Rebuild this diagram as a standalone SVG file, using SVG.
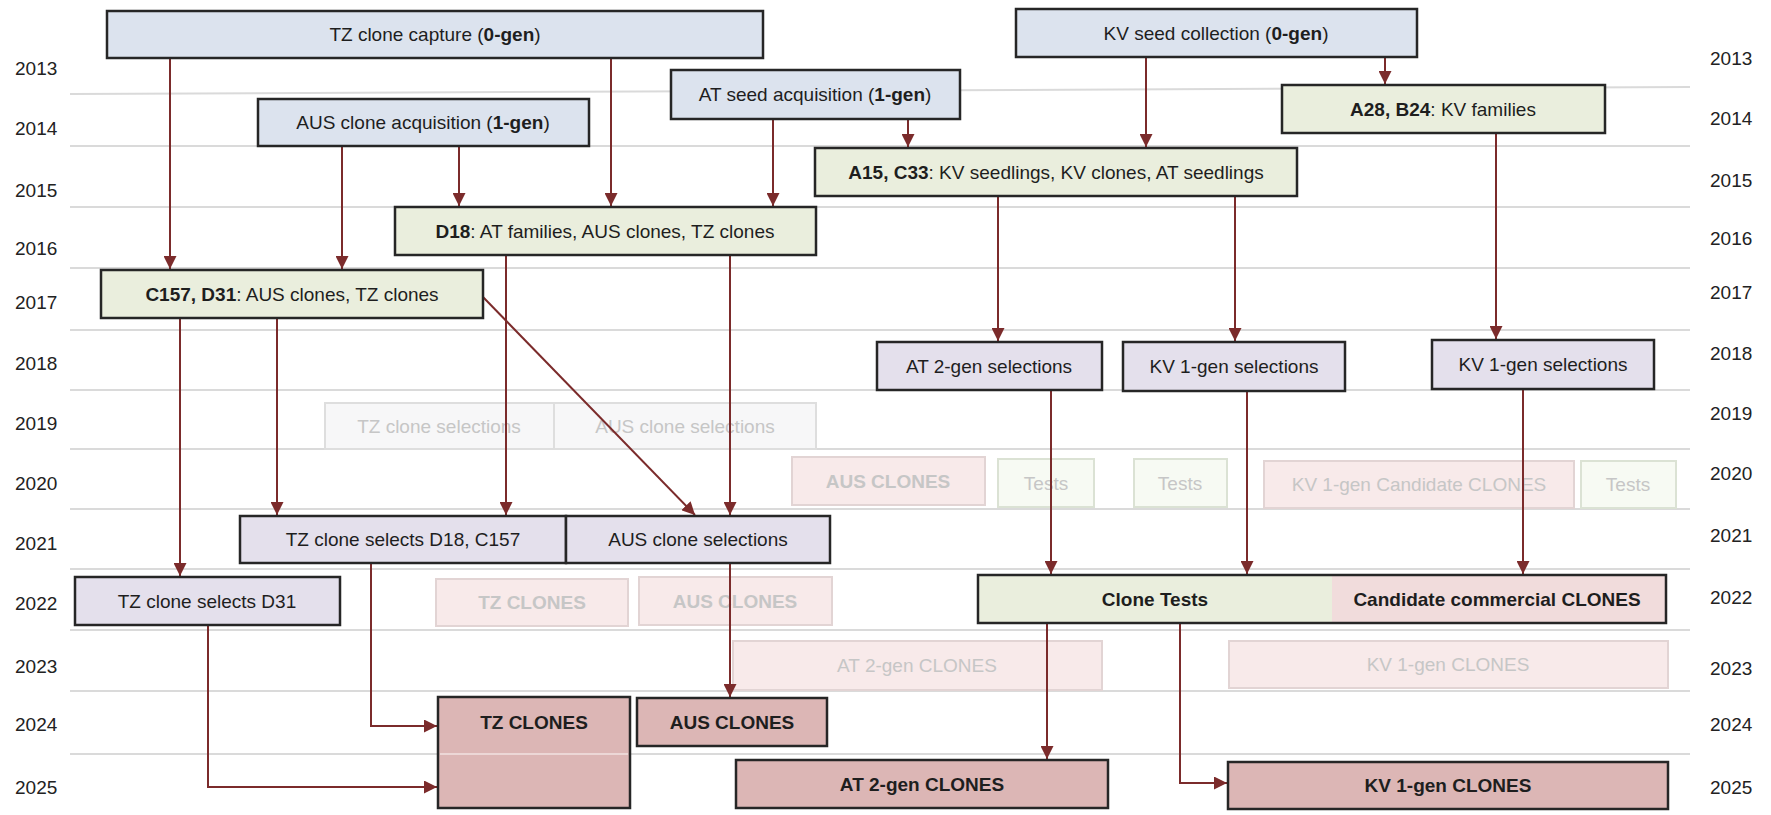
<svg xmlns="http://www.w3.org/2000/svg" width="1771" height="815" viewBox="0 0 1771 815">
<style>
text{font-family:"Liberation Sans",Arial,sans-serif;font-size:19px;fill:#1e1e1e;text-anchor:middle}
.yr{text-anchor:start;fill:#222}
.b{font-weight:bold}
.grid line{stroke:#dadada;stroke-width:2}
.box{stroke:#262626;stroke-width:2.5}
.blue{fill:#dce3ee}
.green{fill:#eaeedd}
.lav{fill:#e4e0ec}
.pink{fill:#dcb6b5}
.cand{fill:#f1dcdc}
.fg{fill:#f7f7f8;stroke:#dedede;stroke-width:2}
.fp{fill:#f8eaea;stroke:#e2d4d4;stroke-width:2}
.ft{fill:#f7faf3;stroke:#dbe2d4;stroke-width:2}
.faded{fill:#c6c6c6}
.con line,.con polyline{stroke:#7b2b2b;stroke-width:2;fill:none;marker-end:url(#ah)}
</style>
<defs>
<marker id="ah" markerUnits="userSpaceOnUse" markerWidth="13" markerHeight="13" refX="13" refY="6.5" orient="auto">
<path d="M0,0 L13,6.5 L0,13 z" fill="#7b2b2b"/>
</marker>
</defs>
<rect x="0" y="0" width="1771" height="815" fill="#ffffff"/>
<g class="grid" id="grid">
<line x1="70" y1="94" x2="1690" y2="87"/>
<line x1="70" y1="146" x2="1690" y2="146"/>
<line x1="70" y1="207" x2="1690" y2="207"/>
<line x1="70" y1="268" x2="1690" y2="268"/>
<line x1="70" y1="330" x2="1690" y2="330"/>
<line x1="70" y1="390" x2="1690" y2="390"/>
<line x1="70" y1="449" x2="1690" y2="449"/>
<line x1="70" y1="509" x2="1690" y2="509"/>
<line x1="70" y1="569" x2="1690" y2="569"/>
<line x1="70" y1="630" x2="1690" y2="630"/>
<line x1="70" y1="691" x2="1690" y2="691"/>
<line x1="70" y1="754" x2="1690" y2="754"/>
</g>
<g id="years-left">
<text class="yr" x="15" y="75">2013</text>
<text class="yr" x="15" y="135">2014</text>
<text class="yr" x="15" y="197">2015</text>
<text class="yr" x="15" y="255">2016</text>
<text class="yr" x="15" y="309">2017</text>
<text class="yr" x="15" y="370">2018</text>
<text class="yr" x="15" y="430">2019</text>
<text class="yr" x="15" y="490">2020</text>
<text class="yr" x="15" y="550">2021</text>
<text class="yr" x="15" y="610">2022</text>
<text class="yr" x="15" y="673">2023</text>
<text class="yr" x="15" y="731">2024</text>
<text class="yr" x="15" y="794">2025</text>
</g>
<g id="years-right">
<text class="yr" x="1710" y="65">2013</text>
<text class="yr" x="1710" y="125">2014</text>
<text class="yr" x="1710" y="187">2015</text>
<text class="yr" x="1710" y="245">2016</text>
<text class="yr" x="1710" y="299">2017</text>
<text class="yr" x="1710" y="360">2018</text>
<text class="yr" x="1710" y="420">2019</text>
<text class="yr" x="1710" y="480">2020</text>
<text class="yr" x="1710" y="542">2021</text>
<text class="yr" x="1710" y="604">2022</text>
<text class="yr" x="1710" y="675">2023</text>
<text class="yr" x="1710" y="731">2024</text>
<text class="yr" x="1710" y="794">2025</text>
</g>
<g id="faded-nodes">
<g id="f-tz-sel"><rect class="fg" x="325" y="403" width="229" height="46"/><text class="faded" x="439" y="433">TZ clone selections</text></g>
<g id="f-aus-sel"><rect class="fg" x="554" y="403" width="262" height="46"/><text class="faded" x="685" y="433">AUS clone selections</text></g>
<g id="f-aus-clones-2020"><rect class="fp" x="792" y="457" width="193" height="48"/><text class="faded b" x="888" y="488">AUS CLONES</text></g>
<g id="f-tests-1"><rect class="ft" x="998" y="459" width="96" height="48"/><text class="faded" x="1046" y="490">Tests</text></g>
<g id="f-tests-2"><rect class="ft" x="1134" y="459" width="93" height="48"/><text class="faded" x="1180" y="490">Tests</text></g>
<g id="f-kv-cand"><rect class="fp" x="1264" y="461" width="310" height="47"/><text class="faded" x="1419" y="491">KV 1-gen Candidate CLONES</text></g>
<g id="f-tests-3"><rect class="ft" x="1581" y="461" width="95" height="47"/><text class="faded" x="1628" y="491">Tests</text></g>
<g id="f-tz-clones-2022"><rect class="fp" x="436" y="579" width="192" height="47"/><text class="faded b" x="532" y="609">TZ CLONES</text></g>
<g id="f-aus-clones-2022"><rect class="fp" x="639" y="577" width="193" height="48"/><text class="faded b" x="735" y="608">AUS CLONES</text></g>
<g id="f-at2-clones"><rect class="fp" x="733" y="641" width="369" height="49"/><text class="faded" x="917" y="672">AT 2-gen CLONES</text></g>
<g id="f-kv1-clones"><rect class="fp" x="1229" y="641" width="439" height="47"/><text class="faded" x="1448" y="671">KV 1-gen CLONES</text></g>
</g>
<g class="con" id="connectors">
<line x1="170" y1="58" x2="170" y2="269"/>
<line x1="611" y1="58" x2="611" y2="206"/>
<line x1="342" y1="146" x2="342" y2="269"/>
<line x1="459" y1="146" x2="459" y2="206"/>
<line x1="773" y1="119" x2="773" y2="206"/>
<line x1="908" y1="119" x2="908" y2="147"/>
<line x1="1146" y1="57" x2="1146" y2="147"/>
<line x1="1385" y1="57" x2="1385" y2="84"/>
<line x1="998" y1="196" x2="998" y2="341"/>
<line x1="1235" y1="196" x2="1235" y2="341"/>
<line x1="1496" y1="133" x2="1496" y2="339"/>
<line x1="180" y1="318" x2="180" y2="576"/>
<line x1="277" y1="318" x2="277" y2="515"/>
<line x1="506" y1="255" x2="506" y2="515"/>
<line x1="730" y1="255" x2="730" y2="515"/>
<line x1="483" y1="297" x2="695" y2="515"/>
<line x1="1051" y1="390" x2="1051" y2="574"/>
<line x1="1247" y1="391" x2="1247" y2="574"/>
<line x1="1523" y1="389" x2="1523" y2="574"/>
<polyline points="371,563 371,726 437,726"/>
<polyline points="208,625 208,787 437,787"/>
<line x1="730" y1="563" x2="730" y2="697"/>
<line x1="1047" y1="623" x2="1047" y2="759"/>
<polyline points="1180,623 1180,783 1227,783"/>
</g>
<g id="nodes">
<g id="tz-capture"><rect class="box blue" x="107" y="11" width="656" height="47"/><text x="435" y="41">TZ clone capture (<tspan class="b">0-gen</tspan>)</text></g>
<g id="aus-acq"><rect class="box blue" x="258" y="99" width="331" height="47"/><text x="423" y="129">AUS clone acquisition (<tspan class="b">1-gen</tspan>)</text></g>
<g id="at-seed"><rect class="box blue" x="671" y="70" width="289" height="49"/><text x="815" y="101">AT seed acquisition (<tspan class="b">1-gen</tspan>)</text></g>
<g id="kv-seed"><rect class="box blue" x="1016" y="9" width="401" height="48"/><text x="1216" y="40">KV seed collection (<tspan class="b">0-gen</tspan>)</text></g>
<g id="a28"><rect class="box green" x="1282" y="85" width="323" height="48"/><text x="1443" y="116"><tspan class="b">A28, B24</tspan>: KV families</text></g>
<g id="a15"><rect class="box green" x="815" y="148" width="482" height="48"/><text x="1056" y="179"><tspan class="b">A15, C33</tspan>: KV seedlings, KV clones, AT seedlings</text></g>
<g id="d18"><rect class="box green" x="395" y="207" width="421" height="48"/><text x="605" y="238"><tspan class="b">D18</tspan>: AT families, AUS clones, TZ clones</text></g>
<g id="c157"><rect class="box green" x="101" y="270" width="382" height="48"/><text x="292" y="301"><tspan class="b">C157, D31</tspan>: AUS clones, TZ clones</text></g>
<g id="at2-sel"><rect class="box lav" x="877" y="342" width="225" height="48"/><text x="989" y="373">AT 2-gen selections</text></g>
<g id="kv1-sel-a"><rect class="box lav" x="1123" y="342" width="222" height="49"/><text x="1234" y="373">KV 1-gen selections</text></g>
<g id="kv1-sel-b"><rect class="box lav" x="1432" y="340" width="222" height="49"/><text x="1543" y="371">KV 1-gen selections</text></g>
<g id="tz-sel-d18"><rect class="box lav" x="240" y="516" width="326" height="47"/><text x="403" y="546">TZ clone selects D18, C157</text></g>
<g id="aus-sel"><rect class="box lav" x="566" y="516" width="264" height="47"/><text x="698" y="546">AUS clone selections</text></g>
<g id="tz-sel-d31"><rect class="box lav" x="75" y="577" width="265" height="48"/><text x="207" y="608">TZ clone selects D31</text></g>
<g id="clone-tests">
<rect class="green" x="978" y="575" width="354" height="48"/>
<rect class="cand" x="1332" y="575" width="334" height="48"/>
<rect class="box" fill="none" x="978" y="575" width="688" height="48"/>
<text class="b" x="1155" y="606">Clone Tests</text>
<text class="b" x="1497" y="606">Candidate commercial CLONES</text>
</g>
<g id="tz-clones"><rect class="box pink" x="438" y="697" width="192" height="111"/><text class="b" x="534" y="729">TZ CLONES</text></g>
<g id="aus-clones"><rect class="box pink" x="637" y="698" width="190" height="48"/><text class="b" x="732" y="729">AUS CLONES</text></g>
<g id="at2-clones"><rect class="box pink" x="736" y="760" width="372" height="48"/><text class="b" x="922" y="791">AT 2-gen CLONES</text></g>
<g id="kv1-clones"><rect class="box pink" x="1228" y="762" width="440" height="47"/><text class="b" x="1448" y="792">KV 1-gen CLONES</text></g>
</g>
<g id="grid-overlay"><line x1="440" y1="754" x2="628" y2="754" stroke="#ffffff" stroke-opacity="0.45" stroke-width="2"/></g>
</svg>
